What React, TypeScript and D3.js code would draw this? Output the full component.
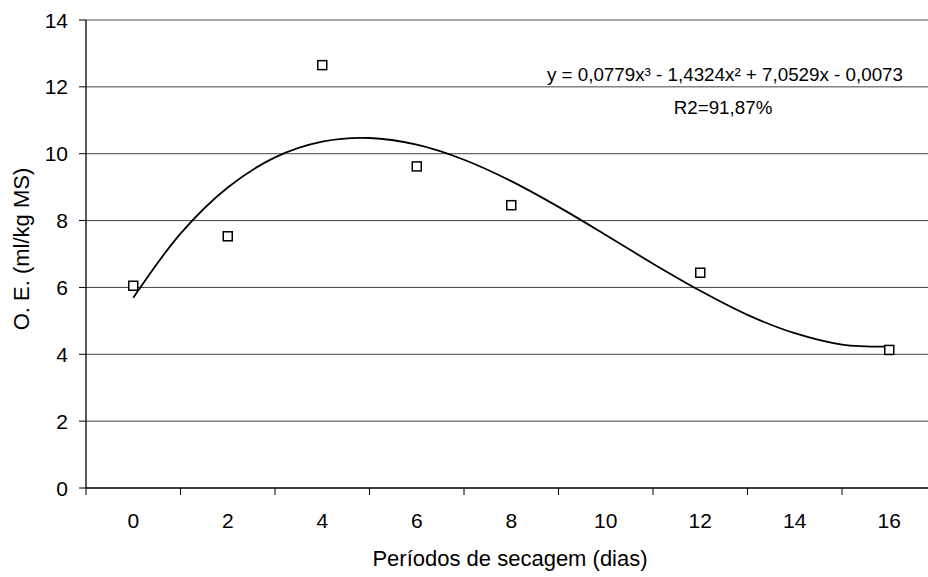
import React from 'react';
import * as d3 from 'd3';

const categories = ['0', '2', '4', '6', '8', '10', '12', '14', '16'];
const observed: (number | null)[] = [6.05, 7.53, 12.65, 9.62, 8.46, null, 6.44, null, 4.13];
// trendline samples (category index positions 1..9, step 0.5)
const trendPos = [1, 1.5, 2, 2.5, 3, 3.5, 4, 4.5, 5, 5.5, 6, 6.5, 7, 7.5, 8, 8.5, 9];
const trendVal = [5.69, 7.61, 8.99, 9.89, 10.36, 10.47, 10.27, 9.82, 9.18, 8.41, 7.57, 6.71, 5.9, 5.18, 4.63, 4.29, 4.23];
const yTicks = [0, 2, 4, 6, 8, 10, 12, 14];
const equationText = 'y = 0,0779x³ - 1,4324x² + 7,0529x - 0,0073';
const r2Text = 'R2=91,87%';
const xTitle = 'Períodos de secagem (dias)';
const yTitle = 'O. E. (ml/kg MS)';

const W = 928;
const H = 577;
const left = 86;
const right = 936.5;
const top = 20;
const bottom = 488;
const font = 'Liberation Sans, Arial, Helvetica, sans-serif';

export default function App() {
  const xBand = d3.scaleBand<string>().domain(categories).range([left, right]).padding(0);
  const xPos = d3.scaleLinear().domain([0.5, categories.length + 0.5]).range([left, right]);
  const y = d3.scaleLinear().domain([0, 14]).range([bottom, top]);

  const line = d3
    .line<number>()
    .x((_, i) => xPos(trendPos[i]))
    .y((d) => y(d))
    .curve(d3.curveCatmullRom);

  const tickXs = categories.map((c) => xBand(c) as number).concat([right]);

  return (
    <svg
      width={W}
      height={H}
      style={{ position: 'absolute', left: 0, top: 0, background: '#fff', overflow: 'hidden' }}
      fontFamily={font}
    >
      <rect x={0} y={0} width={W} height={H} fill="#fff" />
      {yTicks.map((t) => (
        <g key={t}>
          {t > 0 && (
            <line
              x1={left}
              x2={W}
              y1={y(t)}
              y2={y(t)}
              stroke={t === 14 ? '#8a8a8a' : '#444'}
              strokeWidth={t === 14 ? 1.5 : 1}
            />
          )}
          <line x1={left - 7} x2={left} y1={y(t)} y2={y(t)} stroke="#000" strokeWidth={1} />
          <text x={68} y={y(t) + 7.5} fontSize={21} textAnchor="end" fill="#000">
            {t}
          </text>
        </g>
      ))}
      {/* axes */}
      <line x1={left} x2={left} y1={top} y2={bottom} stroke="#000" strokeWidth={1.3} />
      <line x1={left} x2={W} y1={bottom} y2={bottom} stroke="#000" strokeWidth={1.3} />
      {tickXs.map((tx, i) => (
        <line key={i} x1={tx} x2={tx} y1={bottom} y2={bottom + 7} stroke="#000" strokeWidth={1} />
      ))}
      {categories.map((c) => (
        <text
          key={c}
          x={(xBand(c) as number) + xBand.bandwidth() / 2}
          y={527.5}
          fontSize={21}
          textAnchor="middle"
          fill="#000"
        >
          {c}
        </text>
      ))}
      {/* trend */}
      <path d={line(trendVal) || ''} fill="none" stroke="#000" strokeWidth={1.8} />
      {/* markers */}
      {observed.map((v, i) =>
        v == null ? null : (
          <rect
            key={i}
            x={xPos(i + 1) - 4.5}
            y={y(v) - 4.5}
            width={9}
            height={9}
            fill="#fff"
            stroke="#000"
            strokeWidth={1.5}
          />
        )
      )}
      <text x={725} y={81} fontSize={18.8} textAnchor="middle" fill="#000">
        {equationText}
      </text>
      <text x={723} y={114} fontSize={18.8} textAnchor="middle" fill="#000">
        {r2Text}
      </text>
      <text x={510} y={566} fontSize={22} textAnchor="middle" fill="#000">
        {xTitle}
      </text>
      <text
        transform={`translate(29, 249) rotate(-90)`}
        fontSize={22}
        textAnchor="middle"
        fill="#000"
      >
        {yTitle}
      </text>
    </svg>
  );
}
